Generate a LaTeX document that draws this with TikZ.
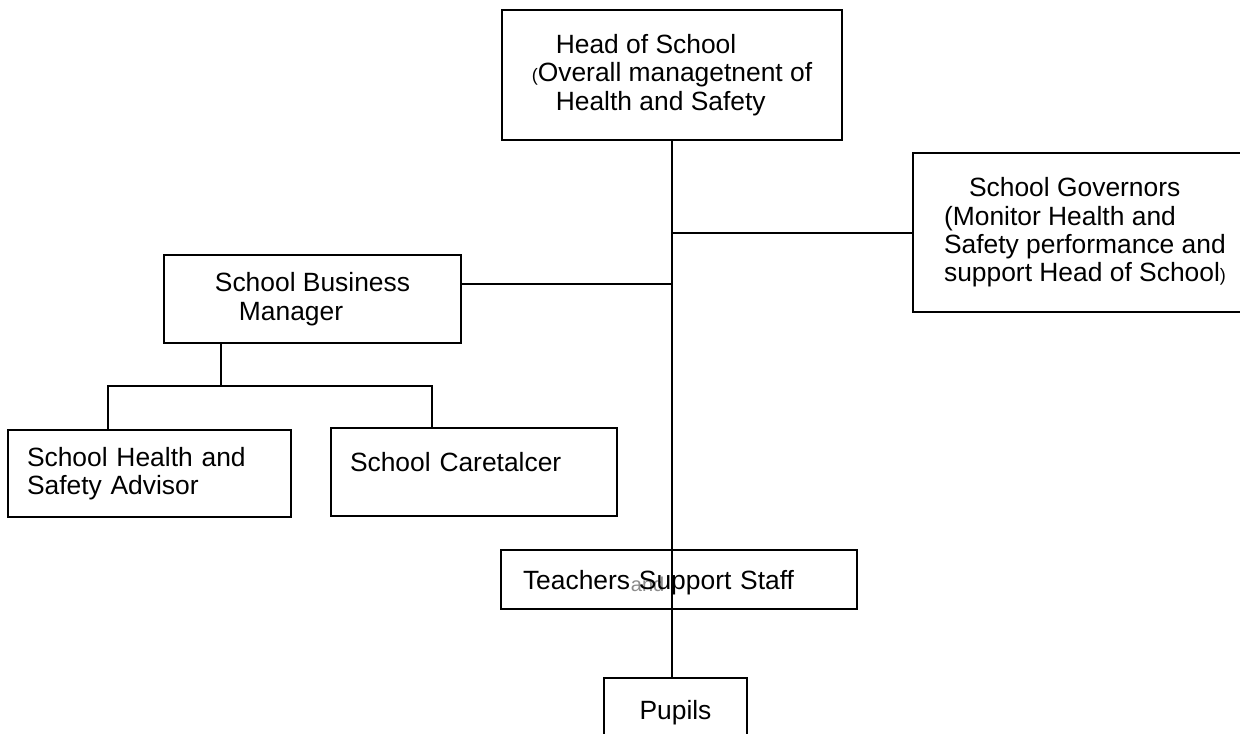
\documentclass[tikz,border=0pt]{standalone}
\usepackage{fontspec}
\setmainfont{Liberation Sans}
\usepackage{tikz}
\usetikzlibrary{positioning}
\usetikzlibrary{calc}

\newcommand{\lilparen}[1]{{\fontsize{9}{9}\selectfont #1}}

\begin{document}
\begin{tikzpicture}[x=0.5pt,y=-0.5pt,line width=1pt]
 \tikzstyle{role node}=[rectangle,draw,align=left,inner sep=0pt,
   font=\fontsize{13.2}{14.2}\selectfont]
 \tikzset{
   left node/.style={role node,text width=#1},
   overprint/.style={text=black!45,font=\fontsize{9}{9}\selectfont}
 }

 \path[use as bounding box,fill=white] (0,0) rectangle (1240,733);

       \node[role node,minimum width=170pt,minimum height=65pt] (head) at (672,75)
         {\hspace*{12pt}Head of School\\
          \lilparen{(}Overall managetnent of\\
          \hspace*{12pt}Health and Safety};
       \node[role node,minimum width=172pt,minimum height=79.5pt] (gov) at (1085,232.5)
         {\hspace*{12.5pt}School Governors\\
          (Monitor Health and\\
          Safety performance and\\
          support Head of School\lilparen{)}};
       \node[role node,minimum width=148.5pt,minimum height=44pt] (sbm) at (312.5,299)
         {School Business\\
          \hspace*{12pt}Manager};

       \node[left node=122.5pt,inner xsep=9.5pt,minimum height=43.5pt] (shsa) at (149.5,473.5)
         {School Health and\\ Safety Advisor};
       \node[left node=124pt,inner xsep=9.5pt,minimum height=44pt,text depth=10pt] (care) at (474,472)
         {School Caretalcer};

       \node[left node=156pt,inner xsep=11pt,minimum height=29.5pt,text depth=0pt] (teach) at (679,579.5)
         {Teachers \rlap{\kern-4pt\raisebox{-1pt}{\textcolor{black!45}{\fontsize{10}{10}\selectfont and}}}Support Staff};
       \node[role node,align=center,minimum width=71.5pt,minimum height=35pt] (pupils) at (675.5,713)
         {Pupils};

       \coordinate (sbmtap) at (672,284);
       \coordinate (stem) at (221,386);
       \coordinate (busl) at (108,386);
       \coordinate (busr) at (432,386);

     \draw (head.south) -- (head.south |- pupils.north);
     \draw (gov.west) -- (gov.west -| head.south);
     \draw (sbmtap -| sbm.east) -- (sbmtap);
     \draw (stem |- sbm.south) -- (stem);
     \draw (busl |- shsa.north) -- (busl) -- (busr) -- (busr |- care.north);
%\draw (sbm.south) |- (shsa.north)
 
 \end{tikzpicture}
\end{document}
